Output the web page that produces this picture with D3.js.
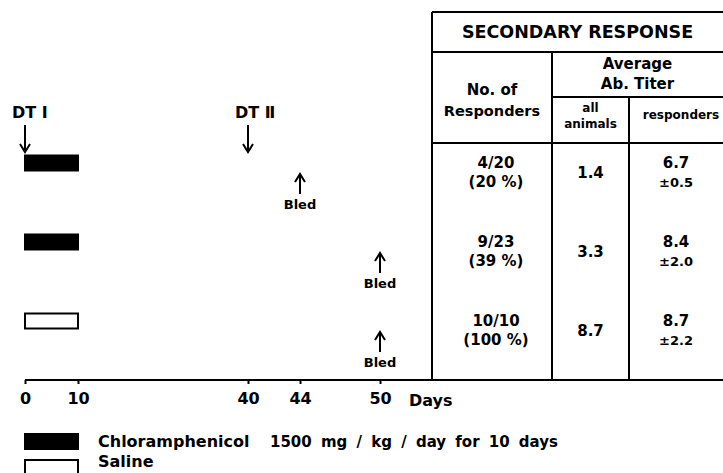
<!DOCTYPE html>
<html>
<head>
<meta charset="utf-8">
<script src="https://cdn.jsdelivr.net/npm/d3@7"></script>
<style>
  body { margin: 0; background: #fff; }
  svg text { font-family: 'DejaVu Sans', sans-serif; font-weight: bold; fill: #000; }
</style>
</head>
<body>
<svg id="chart"></svg>
<script>
// data
const dayTicks = [0, 10, 40, 44, 50];
const injections = ['DT \u2160', 'DT \u2161'];
const injectionDays = [0, 40];
const rowTreatment = ['Chloramphenicol', 'Chloramphenicol', 'Saline'];
const treatStart = [0, 0, 0];
const treatEnd = [10, 10, 10];
const bledDays = [44, 50, 50];
const responders = ['4/20', '9/23', '10/10'];
const responderPct = ['(20 %)', '(39 %)', '(100 %)'];
const titerAll = [1.4, 3.3, 8.7];
const titerResp = [6.7, 8.4, 8.7];
const titerSD = [0.5, 2.0, 2.2];
const treatments = ['Chloramphenicol', 'Saline'];
const treatmentNotes = ['1500 mg / kg / day for 10 days', ''];

const width = 723;
const height = 473;
const baseY = 380;

const svg = d3.select('#chart')
  .attr('width', width)
  .attr('height', height);

// broken day axis: each stretch has its own spacing
const x = d3.scaleLinear()
  .domain(dayTicks)
  .range([25, 78, 248, 300, 380]);

const rowY = d3.scalePoint()
  .domain(d3.range(rowTreatment.length))
  .range([163, 321]);

const fillFor = t => t === 'Saline' ? '#fff' : '#000';

// arrow helper: shaft plus open head
const arrow = (g, ax, y1, y2) => {
  const dir = y2 > y1 ? 1 : -1;
  g.append('path')
    .attr('d', `M${ax},${y1}L${ax},${y2}M${ax - 5},${y2 - dir * 8}L${ax},${y2}L${ax + 5},${y2 - dir * 8}`)
    .attr('fill', 'none')
    .attr('stroke', '#000')
    .attr('stroke-width', 2);
};

// injections
const inj = svg.append('g');
injections.forEach((label, i) => {
  const ix = x(injectionDays[i]);
  inj.append('text')
    .attr('x', ix - 13)
    .attr('y', 118)
    .style('font-size', '16px')
    .text(label);
  arrow(inj, ix, 125, 152);
});

// treatment bars
svg.append('g')
  .selectAll('rect')
  .data(rowTreatment)
  .join('rect')
    .attr('x', (d, i) => x(treatStart[i]))
    .attr('y', (d, i) => rowY(i) - 7.5)
    .attr('width', (d, i) => x(treatEnd[i]) - x(treatStart[i]))
    .attr('height', 15)
    .attr('fill', fillFor)
    .attr('stroke', '#000')
    .attr('stroke-width', 2);

// bleed arrows
const bled = svg.append('g');
bledDays.forEach((day, i) => {
  arrow(bled, x(day), rowY(i) + 31, rowY(i) + 11);
  bled.append('text')
    .attr('x', x(day))
    .attr('y', rowY(i) + 46)
    .attr('text-anchor', 'middle')
    .style('font-size', '13px')
    .text('Bled');
});

// axis
const axis = svg.append('g')
  .attr('transform', `translate(0,${baseY})`)
  .call(d3.axisBottom(x).tickValues(dayTicks).tickSize(4).tickSizeOuter(0).tickPadding(9));
axis.select('.domain').remove();
axis.selectAll('line').attr('stroke-width', 2);
axis.selectAll('text')
  .style('font-size', '16px')
  .style('font-family', "'DejaVu Sans', sans-serif")
  .style('font-weight', 'bold');
svg.append('line')
  .attr('x1', x(0)).attr('x2', width)
  .attr('y1', baseY).attr('y2', baseY)
  .attr('stroke', '#000')
  .attr('stroke-width', 2);
svg.append('text')
  .attr('x', 409)
  .attr('y', 406)
  .style('font-size', '16px')
  .text('Days');

// table
const tLeft = 432, c1 = 552, c2 = 629, tTop = 12, h1 = 52, h2 = 97, h3 = 143;
const grid = svg.append('g')
  .attr('stroke', '#000')
  .attr('stroke-width', 2);
[[tLeft, tTop, width, tTop], [tLeft, h1, width, h1], [c1, h2, width, h2], [tLeft, h3, width, h3],
 [tLeft, tTop, tLeft, baseY], [c1, h1, c1, baseY], [c2, h2, c2, baseY]]
  .forEach(([xa, ya, xb, yb]) => grid.append('line')
    .attr('x1', xa).attr('y1', ya).attr('x2', xb).attr('y2', yb));

const label = (tx, ty, txt, size, anchor = 'middle') => svg.append('text')
  .attr('x', tx)
  .attr('y', ty)
  .attr('text-anchor', anchor)
  .style('font-size', size + 'px')
  .text(txt);

const colMid1 = (tLeft + c1) / 2;
const colMid2 = (c1 + c2) / 2;
const colMid3 = (c2 + width) / 2;

label((tLeft + width) / 2, 38, 'SECONDARY RESPONSE', 17.5);
label(colMid1, 95, 'No. of', 15);
label(colMid1, 116, 'Responders', 14.5);
label((c1 + width) / 2, 69, 'Average', 15);
label((c1 + width) / 2, 89, 'Ab. Titer', 15);
label(colMid2, 112, 'all', 12);
label(colMid2, 128, 'animals', 12);
label(681, 119, 'responders', 12);

rowTreatment.forEach((t, i) => {
  const ry = rowY(i);
  label(colMid1 + 4, ry + 5, responders[i], 15);
  label(colMid1 + 4, ry + 24, responderPct[i], 15);
  label(colMid2, ry + 15, titerAll[i].toFixed(1), 15);
  label(colMid3, ry + 5, titerResp[i].toFixed(1), 15);
  label(colMid3, ry + 24, '\u00b1' + titerSD[i].toFixed(1), 13);
});

// legend
const legend = svg.append('g');
treatments.forEach((t, i) => {
  const ly = 434 + i * 26;
  legend.append('rect')
    .attr('x', x(0))
    .attr('y', ly)
    .attr('width', x(10) - x(0))
    .attr('height', 15)
    .attr('fill', fillFor(t))
    .attr('stroke', '#000')
    .attr('stroke-width', 2);
  legend.append('text')
    .attr('x', 98)
    .attr('y', ly + 13 - i * 6)
    .style('font-size', '16px')
    .text(t);
  if (treatmentNotes[i]) {
    legend.append('text')
      .attr('x', 270)
      .attr('y', ly + 13)
      .style('font-size', '15px')
      .style('word-spacing', '4px')
      .text(treatmentNotes[i]);
  }
});
</script>
</body>
</html>
